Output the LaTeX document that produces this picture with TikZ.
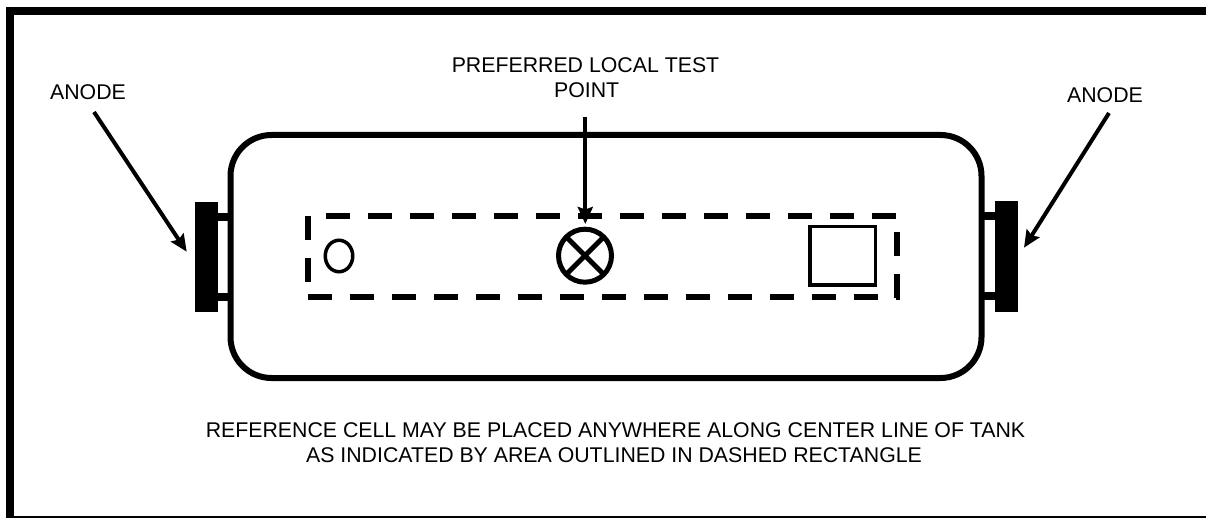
\documentclass[tikz,border=0pt]{standalone}
\usepackage{fontspec}
\setmainfont{Liberation Sans}
\usetikzlibrary{arrows.meta,shapes.geometric}
\tikzset{
  x=1pt,y=-1pt,
  lbl/.style={inner sep=0pt,outer sep=0pt,font=\fontsize{21.3pt}{24pt}\selectfont,align=center,text=black},
  box/.style={draw=black,inner sep=0pt,outer sep=0pt,rectangle},
  anodebar/.style={fill=black,inner sep=0pt,outer sep=0pt,minimum width=22.5pt,minimum height=110pt},
  stub/.style={line width=8pt},
  dashline/.style={line width=6pt,dash pattern=on 24pt off 18pt},
  pointer/.style={line width=4pt,-{Stealth[length=17pt,width=15pt,inset=2.5pt]}},
  framebar/.style={fill=black}
}
\begin{document}
\begin{tikzpicture}
\useasboundingbox (0,0) rectangle (1206,518);
% frame
\fill[framebar] (6,7) rectangle (1206,15);
\fill[framebar] (6,7) rectangle (14,518);
\fill[framebar] (6,516) rectangle (1206,518);
% tank
\node[box,line width=6pt,rounded corners=41pt,minimum width=751pt,minimum height=243pt] (tank) at (606,256.5) {};
% anodes
\node[anodebar] (anodeL) at (206.25,257) {};
\node[anodebar] (anodeR) at (1006.25,256.5) {};
\draw[stub] (anodeL.east |- 0,217) -- (tank.west |- 0,217);
\draw[stub] (anodeL.east |- 0,297) -- (tank.west |- 0,297);
\draw[stub] (tank.east |- 0,216.5) -- (anodeR.west |- 0,216.5);
\draw[stub] (tank.east |- 0,296.5) -- (anodeR.west |- 0,296.5);
% dashed area
\coordinate (tl) at (326,215.7);
\coordinate (tr) at (896,215.7);
\coordinate (bl) at (308,296.7);
\coordinate (br) at (900,296.7);
\coordinate (ltop) at (308.3,216);
\coordinate (lbot) at (308.3,282);
\coordinate (rtop) at (897.3,232);
\coordinate (rbot) at (897.3,299);
\draw[dashline] (tl) -- (tr);
\draw[dashline] (bl) -- (br);
\draw[dashline] (ltop) -- (lbot);
\draw[dashline] (rtop) -- (rbot);
% items
\node[box,ellipse,line width=3.5pt,minimum width=27.5pt,minimum height=31.5pt] (cell) at (339,256) {};
\node[box,line width=3.5pt,minimum width=65.5pt,minimum height=58.5pt] (sq) at (842.5,256) {};
\node[box,circle,line width=5pt,minimum size=53pt] (test) at (585,255.7) {};
\draw[line width=5pt] (test.45) -- (test.225);
\draw[line width=5pt] (test.135) -- (test.315);
% labels
\node[lbl,anchor=base] (anodeLtxt) at (88,100) {ANODE};
\node[lbl,anchor=base] (anodeRtxt) at (1105,103) {ANODE};
\node[lbl,anchor=base] (pref1) at (585.5,73) {PREFERRED LOCAL TEST};
\node[lbl,anchor=base] (pref2) at (586.7,98) {POINT};
\node[lbl,anchor=base] (ref1) at (615.5,437.7) {REFERENCE CELL MAY BE PLACED ANYWHERE ALONG CENTER LINE OF TANK};
\node[lbl,anchor=base] (ref2) at (614,462) {AS INDICATED BY AREA OUTLINED IN DASHED RECTANGLE};
% arrows
\coordinate (a1s) at (94,112);
\coordinate (a1e) at (186.7,251.7);
\coordinate (a2s) at (1109,113);
\coordinate (a2e) at (1024,247.7);
\coordinate (a3s) at (585.3,117);
\coordinate (a3e) at (585.3,224);
\draw[pointer] (a1s) -- (a1e);
\draw[pointer] (a2s) -- (a2e);
\draw[pointer] (a3s) -- (a3e);
\end{tikzpicture}
\end{document}
